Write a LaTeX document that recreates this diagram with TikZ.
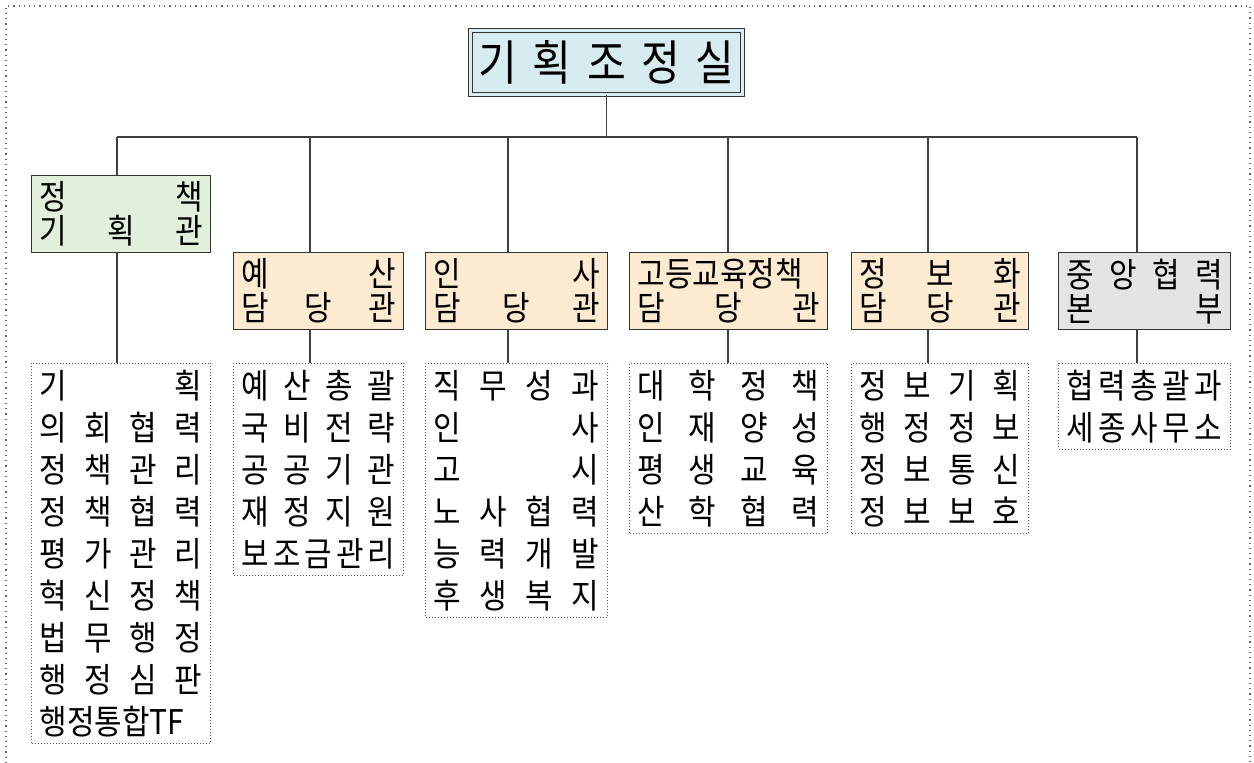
\documentclass[tikz,border=0pt]{standalone}
\usepackage{fontspec}
\setmainfont[FakeStretch=0.88]{Noto Sans CJK KR}
\definecolor{topc}{HTML}{D6ECF0}
\definecolor{grn}{HTML}{E2EFDA}
\definecolor{bge}{HTML}{FCEBD0}
\definecolor{gry}{HTML}{E4E4E4}
\begin{document}
\begin{tikzpicture}[x=0.5pt,y=-0.5pt,
	head/.style={draw=black!80,line width=0.65pt,anchor=north west,inner xsep=4pt,inner ysep=0pt,
		minimum height=38.5pt,align=left,font=\fontsize{17pt}{17pt}\selectfont},
	unit/.style={draw=black!70,densely dotted,line width=0.5pt,anchor=north west,inner xsep=4pt,
		inner ysep=0pt,align=left,font=\fontsize{17pt}{21pt}\selectfont},
	conn/.style={draw=black!75,line width=0.65pt}]
	\useasboundingbox (0,0) rectangle (1254,763);
	\draw [black!60,dotted,line width=0.6pt] (6,763) -- (6,6) -- (1250,6) -- (1250,763);

	\node [draw=black!80,line width=0.6pt,double=topc,double distance=1.5pt,fill=topc,
		inner xsep=2pt,minimum width=135.8pt,minimum height=31.8pt,text width=128pt,
		font=\fontsize{24pt}{24pt}\selectfont] (top) at (606.5,62.5) {기\hfill 획\hfill 조\hfill 정\hfill 실};

	\node [head,fill=grn,text width=81.5pt] (t1) at (31,175) {정\hfill 책\\기\hfill 획\hfill 관};
	\node [head,fill=bge,text width=77pt] (t2) at (233,252) {예\hfill 산\\담\hfill 당\hfill 관};
	\node [head,fill=bge,text width=83pt] (t3) at (425,252) {인\hfill 사\\담\hfill 당\hfill 관};
	\node [head,fill=bge,text width=91pt] (t4) at (629,252) {고등교육정책\\담\hfill 당\hfill 관};
	\node [head,fill=bge,text width=80.5pt] (t5) at (851,252) {정\hfill 보\hfill 화\\담\hfill 당\hfill 관};
	\node [head,fill=gry,text width=78pt] (t6) at (1058,252) {중\hfill 앙\hfill 협\hfill 력\\본\hfill 부};

	\node [unit,text width=81.5pt,minimum height=190pt] (l1) at (31,363) {기\hfill 획\\
		의\hfill 회\hfill 협\hfill 력\\정\hfill 책\hfill 관\hfill 리\\정\hfill 책\hfill 협\hfill 력\\
		평\hfill 가\hfill 관\hfill 리\\혁\hfill 신\hfill 정\hfill 책\\법\hfill 무\hfill 행\hfill 정\\
		행\hfill 정\hfill 심\hfill 판\\행정통합TF};
	\node [unit,text width=77pt,minimum height=106pt] (l2) at (233,363) {예\hfill 산\hfill 총\hfill 괄\\
		국\hfill 비\hfill 전\hfill 략\\공\hfill 공\hfill 기\hfill 관\\재\hfill 정\hfill 지\hfill 원\\
		보\hfill 조\hfill 금\hfill 관\hfill 리};
	\node [unit,text width=83pt,minimum height=127pt] (l3) at (425,363) {직\hfill 무\hfill 성\hfill 과\\
		인\hfill 사\\고\hfill 시\\노\hfill 사\hfill 협\hfill 력\\능\hfill 력\hfill 개\hfill 발\\
		후\hfill 생\hfill 복\hfill 지};
	\node [unit,text width=91pt,minimum height=85pt] (l4) at (629,363) {대\hfill 학\hfill 정\hfill 책\\
		인\hfill 재\hfill 양\hfill 성\\평\hfill 생\hfill 교\hfill 육\\산\hfill 학\hfill 협\hfill 력};
	\node [unit,text width=80.5pt,minimum height=85pt] (l5) at (851,363) {정\hfill 보\hfill 기\hfill 획\\
		행\hfill 정\hfill 정\hfill 보\\정\hfill 보\hfill 통\hfill 신\\정\hfill 보\hfill 보\hfill 호};
	\node [unit,text width=78pt,minimum height=43pt] (l6) at (1058,363) {협\hfill 력\hfill 총\hfill 괄\hfill 과\\
		세\hfill 종\hfill 사\hfill 무\hfill 소};

	\coordinate (bus) at (606.5,137);
	\draw [conn] (top.south) -- (bus);
	\foreach \i/\x in {1/117,2/310,3/508,4/728,5/928,6/1137}{
		\coordinate (d\i) at (\x,137);
		\draw [conn] (d\i) -- (d\i |- t\i.north);
		\draw [conn] (d\i |- t\i.south) -- (d\i |- l\i.north);
	}
	\draw [conn] (d1) -- (d6);
\end{tikzpicture}
\end{document}
